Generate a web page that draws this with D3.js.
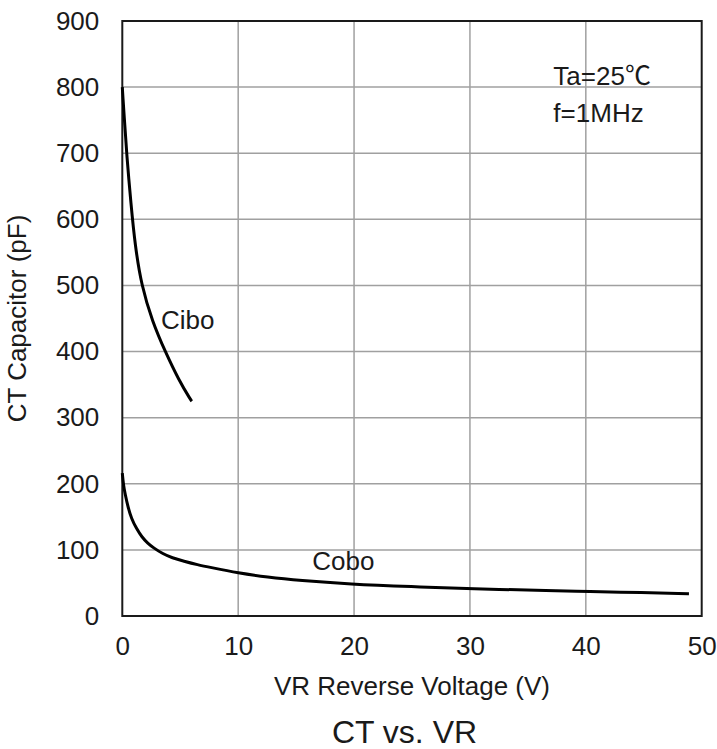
<!DOCTYPE html>
<html>
<head>
<meta charset="utf-8">
<script src="https://cdn.jsdelivr.net/npm/d3@7"></script>
<style>
  html, body { margin: 0; padding: 0; background: #fff; }
  text { font-family: "Liberation Sans", Arial, sans-serif; fill: #1a1a1a; }
</style>
</head>
<body>
<svg id="chart" width="717" height="749"></svg>
<script>
const xTicks = [0, 10, 20, 30, 40, 50];
const yTicks = [0, 100, 200, 300, 400, 500, 600, 700, 800, 900];

const ciboVR = [0, 0.05, 0.15, 0.38, 0.75, 1.1, 1.65, 2.6, 3.7, 4.9, 5.9, 6.0];
const ciboCT = [800, 785, 760, 697, 623, 561, 500, 445, 400, 356, 327, 325];

const coboVR = [0, 0.1, 0.25, 0.5, 0.8, 1.2, 1.7, 2.2, 2.7, 3.5, 4.3, 5.3, 6.5, 7.6, 10, 12.5, 15.3, 19.6, 25, 30, 37.3, 40, 45, 48.5, 48.9];
const coboCT = [216, 198, 184, 164, 147, 133, 119, 110, 103, 94, 88, 83, 77.5, 73.5, 65, 58.8, 53.8, 48.3, 44.3, 41.2, 38.3, 37.2, 35.3, 34, 33.8];

const seriesLabels = ["Cibo", "Cobo"];
const annotations = ["Ta=25", "\u2103", "f=1MHz"];
const xTitle = "VR Reverse Voltage (V)";
const yTitle = "CT Capacitor (pF)";
const chartTitle = "CT vs. VR";

const margin = { left: 122.3, right: 15.3, top: 21, bottom: 133 };
const W = 717, H = 749;
const FS = 26;
const svg = d3.select("#chart");

const x = d3.scaleLinear().domain([0, 50]).range([margin.left, W - margin.right]);
const y = d3.scaleLinear().domain([0, 900]).range([H - margin.bottom, margin.top]);

// grid
const g = svg.append("g");
g.selectAll("line.vg").data(xTicks.slice(1, -1)).join("line")
  .attr("x1", d => x(d)).attr("x2", d => x(d))
  .attr("y1", y(0)).attr("y2", y(900))
  .attr("stroke", "#a0a0a0").attr("stroke-width", 1.5);
g.selectAll("line.hg").data(yTicks.slice(1, -1)).join("line")
  .attr("x1", x(0)).attr("x2", x(50))
  .attr("y1", d => y(d)).attr("y2", d => y(d))
  .attr("stroke", "#a0a0a0").attr("stroke-width", 1.5);

// frame
svg.append("rect")
  .attr("x", x(0)).attr("y", y(900))
  .attr("width", x(50) - x(0)).attr("height", y(0) - y(900))
  .attr("fill", "none").attr("stroke", "#1a1a1a").attr("stroke-width", 2);

// axes (labels only)
const xAxis = d3.axisBottom(x).tickValues(xTicks).tickSize(0).tickPadding(20.5);
const xg = svg.append("g").attr("transform", `translate(0,${y(0)})`).call(xAxis);
xg.select(".domain").remove();
xg.selectAll("text").attr("font-size", FS).attr("font-family", "Liberation Sans, Arial, sans-serif").attr("fill", "#1a1a1a");

const yAxis = d3.axisLeft(y).tickValues(yTicks).tickSize(0).tickPadding(23);
const yg = svg.append("g").attr("transform", `translate(${x(0)},0)`).call(yAxis);
yg.select(".domain").remove();
yg.selectAll("text").attr("font-size", FS).attr("font-family", "Liberation Sans, Arial, sans-serif").attr("fill", "#1a1a1a");

// curves
const line = d3.line().x(d => x(d[0])).y(d => y(d[1])).curve(d3.curveBasis);
const cibo = ciboVR.map((v, i) => [v, ciboCT[i]]);
const cobo = coboVR.map((v, i) => [v, coboCT[i]]);
[cibo, cobo].forEach(s => {
  svg.append("path").datum(s).attr("d", line)
    .attr("fill", "none").attr("stroke", "#000").attr("stroke-width", 3)
    .attr("stroke-linecap", "butt");
});

// labels
svg.append("text").attr("x", x(3.33)).attr("y", y(434)).attr("font-size", FS).text(seriesLabels[0]);
svg.append("text").attr("x", x(16.4)).attr("y", y(70)).attr("font-size", FS).text(seriesLabels[1]);
const ta = svg.append("text").attr("x", x(37.2)).attr("y", 85).attr("font-size", FS);
ta.append("tspan").text(annotations[0]);
ta.append("tspan").attr("font-family", "Noto Sans CJK SC").text(annotations[1]);
svg.append("text").attr("x", x(37.2)).attr("y", 122).attr("font-size", FS).text(annotations[2]);

// titles
svg.append("text").attr("x", (x(0) + x(50)) / 2).attr("y", 695)
  .attr("text-anchor", "middle").attr("font-size", FS).text(xTitle);
svg.append("text").attr("transform", `translate(26,${(y(0) + y(900)) / 2}) rotate(-90)`)
  .attr("text-anchor", "middle").attr("font-size", FS).text(yTitle);
svg.append("text").attr("x", (x(0) + x(50)) / 2 - 7.5).attr("y", 743)
  .attr("text-anchor", "middle").attr("font-size", 32).text(chartTitle);
</script>
</body>
</html>
